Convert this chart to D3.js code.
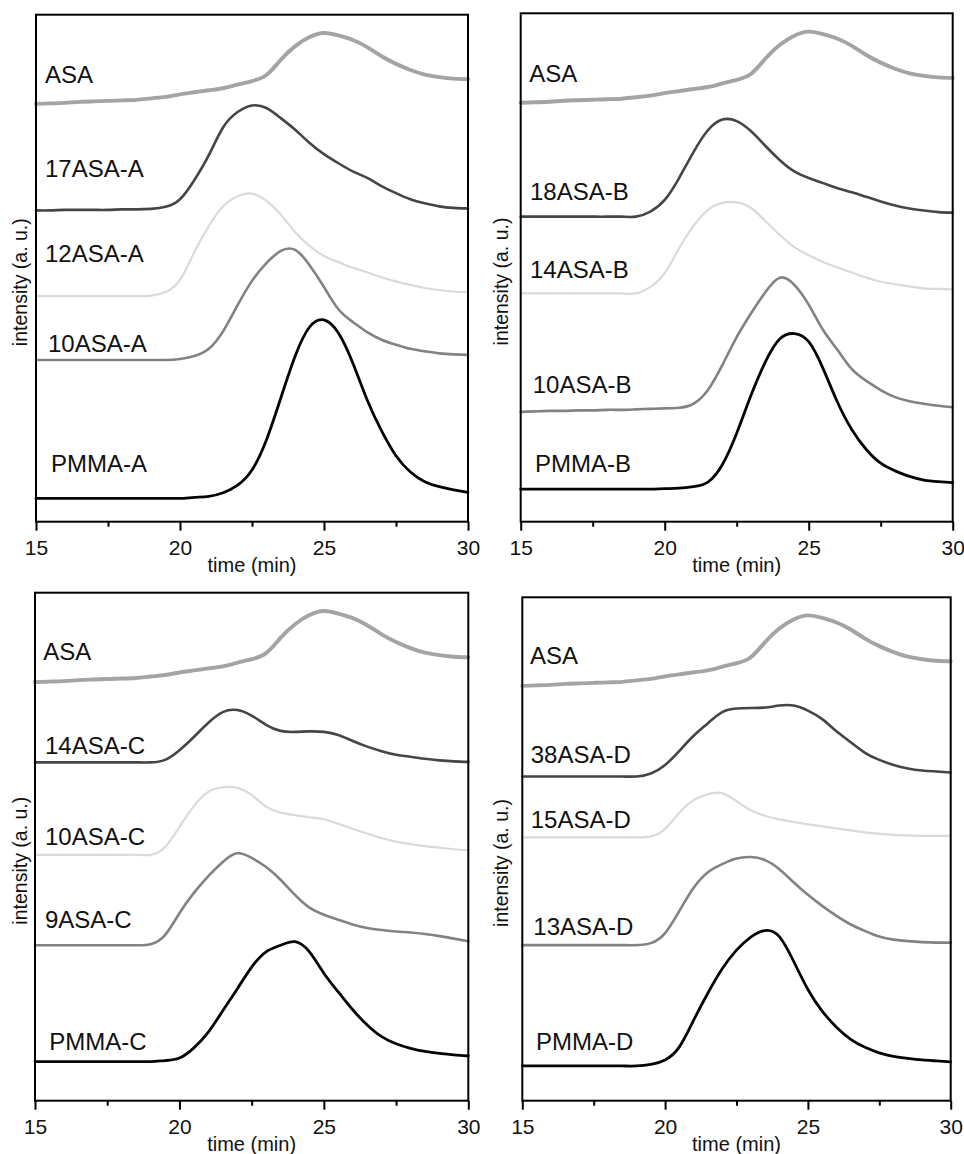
<!DOCTYPE html>
<html>
<head>
<meta charset="utf-8">
<script src="https://cdn.jsdelivr.net/npm/d3@7"></script>
<style>
  body { margin: 0; background: #fff; }
  svg { display: block; }
  text { font-family: "Liberation Sans", Arial, Helvetica, sans-serif; fill: #111; }
</style>
</head>
<body>
<svg id="chart" width="964" height="1154"></svg>
<script>
// Elution time grid (min)
const times = [15, 15.5, 16, 16.5, 17, 17.5, 18, 18.5, 19, 19.5, 20, 20.5, 21, 21.5, 22,
  22.5, 23, 23.5, 24, 24.5, 25, 25.5, 26, 26.5, 27, 27.5, 28, 28.5, 29, 29.5, 30];

// Detector response (a. u., traces stacked with offsets) for each sample
const asa = [82.4, 82.5, 82.6, 82.8, 82.9, 83.0, 83.1, 83.2, 83.5, 83.8, 84.3, 84.7, 85.1, 85.5, 86.2,
  86.9, 88.1, 91.1, 93.8, 95.6, 96.4, 95.9, 95.0, 93.6, 91.8, 90.3, 89.1, 88.2, 87.7, 87.4, 87.3];

const asa17A = [61.4, 61.4, 61.5, 61.5, 61.5, 61.5, 61.6, 61.6, 61.7, 62.1, 63.6, 67.4, 72.3, 77.8, 80.8,
  82.1, 81.6, 79.6, 77.3, 74.7, 72.5, 70.7, 69.1, 67.8, 66.2, 64.8, 63.6, 62.8, 62.2, 61.9, 61.8];
const asa12A = [44.5, 44.5, 44.5, 44.5, 44.5, 44.5, 44.5, 44.5, 44.6, 45.3, 47.7, 53.2, 58.3, 62.2, 64.2,
  64.7, 63.3, 60.6, 57.1, 54.4, 52.4, 51.2, 50.1, 49.2, 48.2, 47.4, 46.7, 46.1, 45.7, 45.4, 45.3];
const asa10A = [31.9, 31.9, 31.9, 31.9, 31.9, 31.9, 31.9, 31.9, 31.9, 31.9, 32.1, 32.7, 34.1, 37.6, 42.7,
  47.5, 51.0, 53.4, 53.6, 50.6, 46.3, 41.9, 39.4, 37.4, 35.9, 34.9, 34.1, 33.6, 33.2, 33.0, 32.9];
const pmmaA = [4.6, 4.6, 4.6, 4.6, 4.6, 4.6, 4.6, 4.6, 4.6, 4.6, 4.6, 4.8, 5.0, 5.7, 7.2,
  10.2, 16.1, 24.4, 32.7, 38.4, 39.8, 37.2, 31.3, 24.0, 17.9, 13.0, 9.8, 7.9, 6.9, 6.3, 5.8];

const asa18B = [60.0, 60.0, 60.0, 60.0, 60.0, 60.0, 60.0, 60.0, 60.0, 61.0, 63.3, 67.6, 72.7, 77.0, 79.1,
  78.8, 76.8, 73.9, 71.1, 68.9, 67.6, 66.6, 65.6, 64.8, 63.9, 63.0, 62.2, 61.6, 61.2, 60.9, 60.8];
const asa14B = [44.9, 44.9, 44.9, 44.9, 44.9, 44.9, 44.9, 44.9, 44.9, 46.2, 48.9, 53.8, 58.2, 61.3, 62.7,
  62.8, 61.7, 59.1, 56.4, 54.0, 52.4, 51.1, 50.0, 49.0, 48.0, 47.2, 46.7, 46.3, 45.9, 45.8, 45.7];
const asa10B = [21.6, 21.7, 21.8, 21.8, 21.9, 21.9, 22.0, 22.0, 22.1, 22.2, 22.3, 22.4, 23.2, 25.9, 30.8,
  36.3, 41.0, 45.2, 48.0, 46.6, 42.7, 37.7, 33.8, 30.0, 27.7, 25.9, 24.5, 23.7, 23.2, 22.8, 22.5];
const pmmaB = [6.4, 6.4, 6.4, 6.4, 6.4, 6.4, 6.4, 6.4, 6.4, 6.4, 6.5, 6.6, 6.9, 7.8, 11.2,
  17.4, 24.9, 31.5, 36.0, 37.0, 35.4, 30.1, 23.5, 18.1, 14.2, 11.5, 10.0, 8.9, 8.2, 7.9, 7.7];

const asa14C = [66.6, 66.6, 66.6, 66.6, 66.6, 66.6, 66.6, 66.6, 66.6, 67.1, 69.0, 71.6, 74.4, 76.5, 76.9,
  75.8, 74.0, 72.8, 72.6, 72.7, 72.6, 72.0, 70.8, 69.7, 68.8, 68.1, 67.7, 67.3, 67.0, 66.8, 66.7];
const asa10C = [48.4, 48.4, 48.4, 48.4, 48.4, 48.4, 48.4, 48.4, 48.4, 49.9, 53.9, 58.0, 60.8, 61.7, 61.6,
  60.2, 57.9, 56.7, 56.2, 55.8, 55.4, 54.5, 53.5, 52.6, 51.7, 51.0, 50.5, 50.1, 49.8, 49.5, 49.3];
const asa9C = [30.6, 30.6, 30.6, 30.6, 30.6, 30.6, 30.6, 30.6, 30.8, 32.6, 36.9, 40.9, 44.2, 47.0, 48.7,
  47.8, 46.0, 43.5, 40.5, 38.0, 36.6, 35.6, 34.7, 34.0, 33.6, 33.3, 33.1, 32.8, 32.4, 31.9, 31.4];
const pmmaC = [7.7, 7.7, 7.7, 7.7, 7.7, 7.7, 7.7, 7.7, 7.7, 7.9, 8.4, 10.4, 13.5, 17.7, 22.0,
  26.3, 29.3, 30.6, 31.3, 29.3, 25.1, 21.4, 17.9, 14.9, 12.6, 11.2, 10.3, 9.7, 9.3, 9.0, 8.8];

const asa38D = [64.4, 64.4, 64.4, 64.4, 64.4, 64.4, 64.4, 64.4, 64.4, 65.0, 66.7, 69.5, 72.5, 75.0, 77.2,
  77.9, 78.0, 78.1, 78.5, 78.5, 77.5, 75.8, 73.4, 71.2, 69.1, 67.7, 66.7, 66.0, 65.6, 65.4, 65.2];
const asa15D = [52.3, 52.3, 52.3, 52.3, 52.3, 52.3, 52.3, 52.3, 52.3, 52.5, 54.0, 57.2, 59.7, 60.9, 61.1,
  59.5, 57.7, 56.6, 55.9, 55.4, 54.9, 54.5, 54.1, 53.7, 53.3, 53.0, 52.8, 52.7, 52.6, 52.6, 52.6];
const asa13D = [30.9, 30.9, 30.9, 30.9, 30.9, 30.9, 30.9, 30.9, 30.9, 31.3, 33.3, 37.7, 42.3, 45.4, 47.0,
  48.1, 48.4, 47.8, 46.0, 43.4, 40.9, 38.7, 36.7, 35.0, 33.7, 32.6, 32.0, 31.7, 31.5, 31.4, 31.4];
const pmmaD = [6.9, 6.9, 6.9, 6.9, 6.9, 6.9, 6.9, 6.9, 6.9, 7.2, 8.1, 10.7, 16.0, 21.4, 26.2,
  29.9, 32.5, 33.8, 32.6, 27.7, 22.1, 17.8, 14.6, 12.2, 10.6, 9.5, 8.8, 8.4, 8.1, 7.9, 7.7];

// Axis ticks
const majorTicks = [15, 20, 25, 30];
const minorTicks = [17.5, 22.5, 27.5];
const xTitle = "time (min)";
const yTitle = "intensity (a. u.)";

// Trace appearance
const styles = {
  asa:   { color: "#a4a4a4", width: 3.9 },
  dark:  { color: "#454545", width: 2.6 },
  light: { color: "#dadada", width: 2.2 },
  mid:   { color: "#828282", width: 2.6 },
  black: { color: "#050505", width: 2.8 }
};

// Panel frames (px), y-title baseline x (px) and traces;
// label offsets are px from the frame's top-left corner
const panels = [
  { left: 36, top: 14.7, right: 468, bottom: 521.7, yTitleX: 27, traces: [
    { name: "ASA",     values: asa,    style: "asa",   dx: 9,  dy: 68 },
    { name: "17ASA-A", values: asa17A, style: "dark",  dx: 9,  dy: 162 },
    { name: "12ASA-A", values: asa12A, style: "light", dx: 9,  dy: 247 },
    { name: "10ASA-A", values: asa10A, style: "mid",   dx: 12, dy: 337 },
    { name: "PMMA-A",  values: pmmaA,  style: "black", dx: 15, dy: 457 } ] },
  { left: 520.7, top: 13.3, right: 952.7, bottom: 521.7, yTitleX: 508, traces: [
    { name: "ASA",     values: asa,    style: "asa",   dx: 8.6, dy: 68.4 },
    { name: "18ASA-B", values: asa18B, style: "dark",  dx: 9.3, dy: 186.7 },
    { name: "14ASA-B", values: asa14B, style: "light", dx: 9.3, dy: 264.4 },
    { name: "10ASA-B", values: asa10B, style: "mid",   dx: 12,  dy: 379.4 },
    { name: "PMMA-B",  values: pmmaB,  style: "black", dx: 14.3, dy: 458.4 } ] },
  { left: 35, top: 592.7, right: 468.3, bottom: 1100.7, yTitleX: 27, traces: [
    { name: "ASA",     values: asa,    style: "asa",   dx: 8.3, dy: 67.3 },
    { name: "14ASA-C", values: asa14C, style: "dark",  dx: 10,  dy: 161.3 },
    { name: "10ASA-C", values: asa10C, style: "light", dx: 10,  dy: 252.3 },
    { name: "9ASA-C",  values: asa9C,  style: "mid",   dx: 10,  dy: 335.6 },
    { name: "PMMA-C",  values: pmmaC,  style: "black", dx: 14.3, dy: 457.3 } ] },
  { left: 522.3, top: 597.3, right: 950.7, bottom: 1100.7, yTitleX: 508, traces: [
    { name: "ASA",     values: asa,    style: "asa",   dx: 7.7, dy: 66.7 },
    { name: "38ASA-D", values: asa38D, style: "dark",  dx: 8.4, dy: 166 },
    { name: "15ASA-D", values: asa15D, style: "light", dx: 8.4, dy: 231 },
    { name: "13ASA-D", values: asa13D, style: "mid",   dx: 11,  dy: 337.7 },
    { name: "PMMA-D",  values: pmmaD,  style: "black", dx: 13.7, dy: 452.7 } ] }
];

const svg = d3.select("#chart");

panels.forEach(p => {
  const x = d3.scaleLinear().domain([15, 30]).range([p.left, p.right]);
  const y = d3.scaleLinear().domain([0, 100]).range([p.bottom, p.top]);
  const g = svg.append("g");

  const line = d3.line()
    .x((d, i) => x(times[i]))
    .y(d => y(d))
    .curve(d3.curveNatural);

  // traces
  p.traces.forEach(t => {
    const s = styles[t.style];
    g.append("path")
      .datum(t.values)
      .attr("d", line)
      .attr("fill", "none")
      .attr("stroke", s.color)
      .attr("stroke-width", s.width)
      .attr("stroke-linejoin", "round")
      .attr("stroke-linecap", "round");
  });

  // trace names
  p.traces.forEach(t => {
    g.append("text")
      .attr("x", p.left + t.dx)
      .attr("y", p.top + t.dy)
      .attr("font-size", 24)
      .text(t.name);
  });

  // frame
  g.append("rect")
    .attr("x", p.left).attr("y", p.top)
    .attr("width", p.right - p.left).attr("height", p.bottom - p.top)
    .attr("fill", "none").attr("stroke", "#000").attr("stroke-width", 2);

  // bottom axis: major ticks with labels, minor ticks without
  const major = g.append("g")
    .attr("transform", `translate(0,${p.bottom})`)
    .call(d3.axisBottom(x).tickValues(majorTicks).tickSize(9).tickPadding(9)
      .tickSizeOuter(0).tickFormat(d3.format("d")));
  const minor = g.append("g")
    .attr("transform", `translate(0,${p.bottom})`)
    .call(d3.axisBottom(x).tickValues(minorTicks).tickSize(5).tickSizeOuter(0).tickFormat(""));
  [major, minor].forEach(a => {
    a.select(".domain").remove();
    a.selectAll(".tick line").attr("stroke", "#000").attr("stroke-width", 2);
  });
  major.selectAll(".tick text")
    .attr("font-size", 21)
    .attr("font-family", "\"Liberation Sans\", Arial, Helvetica, sans-serif")
    .attr("fill", "#111");

  // axis titles
  g.append("text")
    .attr("x", (p.left + p.right) / 2)
    .attr("y", p.bottom + 50)
    .attr("text-anchor", "middle")
    .attr("font-size", 20)
    .text(xTitle);

  g.append("text")
    .attr("transform", `translate(${p.yTitleX},${(p.top + p.bottom) / 2 + 14}) rotate(-90)`)
    .attr("text-anchor", "middle")
    .attr("font-size", 19.5)
    .text(yTitle);
});
</script>
</body>
</html>
